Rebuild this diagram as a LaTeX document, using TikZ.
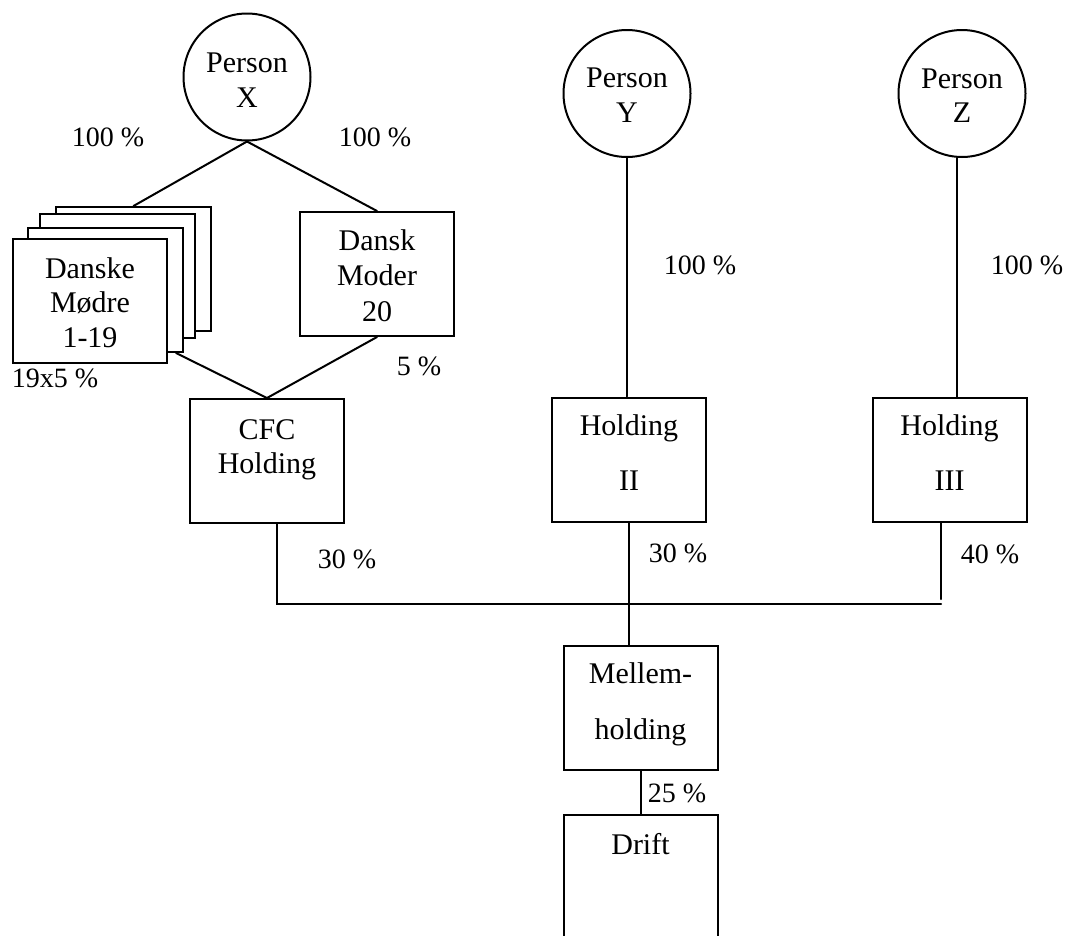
\documentclass[tikz,border=0pt]{standalone}
\usepackage{fontspec}
\setmainfont{Liberation Serif}
\usetikzlibrary{calc}

\begin{document}
\begin{tikzpicture}[x=1pt, y=-1pt,
  every node/.style={font=\fontsize{28}{35}\selectfont, inner sep=0pt},
  line/.style={line width=2pt, line cap=round},
  box/.style={draw, line width=2pt, fill=white, rectangle,
    minimum width=154pt, minimum height=124pt, align=center, text depth=10pt},
  person/.style={draw, line width=2pt, circle, minimum size=127pt,
    align=center, text depth=10pt},
  pct/.style={anchor=center}
]
\useasboundingbox (0,0) rectangle (1066,935);

% owners (text height places the last line's baseline)
\node[person, text height=70pt, font=\fontsize{30}{35}\selectfont] (px) at (247,77) {Person\\X};
\node[person, text height=67pt, font=\fontsize{30}{34.5}\selectfont] (py) at (627,93.5) {Person\\Y};
\node[person, text height=68pt, font=\fontsize{30}{34.5}\selectfont] (pz) at (962,93.5) {Person\\Z};

% stack of Danish parent companies, back to front
\node[box, minimum width=155pt] (m4) at (133.5,269) {};
\node[box, minimum width=155pt] (m3) at (117.5,276) {};
\node[box, minimum width=155pt] (m2) at (105.5,290) {};
\node[box, text height=102pt, font=\fontsize{30}{34.5}\selectfont] (m1) at (90,301) {Danske\\Mødre\\1-19};

\node[box, text height=104pt, font=\fontsize{30}{35.5}\selectfont] (moder) at (377,274) {Dansk\\Moder\\20};

% holding companies
\node[box, text height=34pt, font=\fontsize{30}{34}\selectfont] (cfc) at (267,461) {CFC\\Holding};
\node[box, text height=71pt, font=\fontsize{30}{55}\selectfont] (h2) at (629,459.5) {Holding\\II};
\node[box, text height=70pt, font=\fontsize{30}{55}\selectfont] (h3) at (949.5,460) {Holding\\III};

\node[box, text height=73pt, font=\fontsize{30}{56}\selectfont] (mel) at (640.5,707.5) {Mellem-\\holding};
\node[box, text height=19pt, text depth=65pt, font=\fontsize{30}{35}\selectfont] (drift) at (640.5,877) {Drift};

% ownership lines
\draw[line] (px.south) -- (m4.north);
\draw[line] (px.south) -- (moder.north);
\draw[line] ($(m2.south east)+(-8,0)$) -- (cfc.north);
\draw[line] (moder.south) -- (cfc.north);

\draw[line] (py.south) -- (py.south |- h2.north);
\coordinate (zdrop) at ($(pz.south)+(-5,0)$);
\draw[line] (zdrop) -- (zdrop |- h3.north);

\coordinate (busL) at (277,604);
\coordinate (busR) at (941,604);
\draw[line] (cfc.south -| busL) -- (busL) -- (busR);
\draw[line] (h3.south -| busR) -- ([yshift=5pt]busR);
\draw[line] (h2.south) -- (h2.south |- mel.north);
\draw[line] (mel.south) -- (drift.north);

% shares
\node[pct] (s1) at (108,137) {100 \%};
\node[pct] (s2) at (375,137) {100 \%};
\node[pct] (s3) at (700,265) {100 \%};
\node[pct] (s4) at (1027,265) {100 \%};
\node[pct] (s5) at (55,378) {19x5 \%};
\node[pct] (s6) at (419,366) {5 \%};
\node[pct] (s7) at (347,559) {30 \%};
\node[pct] (s8) at (678,553) {30 \%};
\node[pct] (s9) at (990,554) {40 \%};
\node[pct] (s10) at (677,793) {25 \%};
\end{tikzpicture}
\end{document}
